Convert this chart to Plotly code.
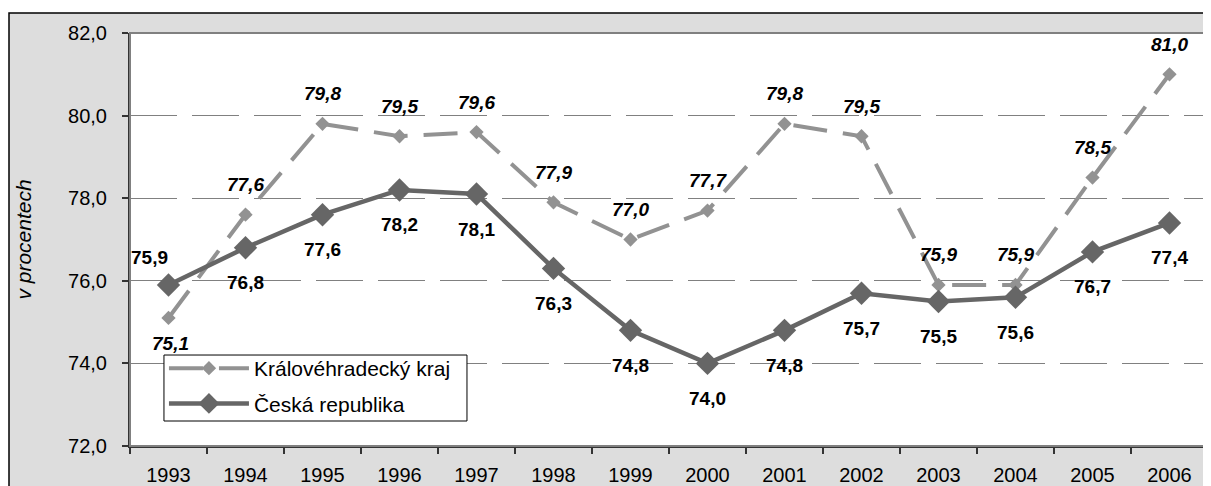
import plotly.graph_objects as go

years = ["1993", "1994", "1995", "1996", "1997", "1998", "1999",
         "2000", "2001", "2002", "2003", "2004", "2005", "2006"]
kh_values = [75.1, 77.6, 79.8, 79.5, 79.6, 77.9, 77.0, 77.7, 79.8, 79.5, 75.9, 75.9, 78.5, 81.0]
cr_values = [75.9, 76.8, 77.6, 78.2, 78.1, 76.3, 74.8, 74.0, 74.8, 75.7, 75.5, 75.6, 76.7, 77.4]
kh_name = "Královéhradecký kraj"
cr_name = "Česká republika"
y_ticks = [72, 74, 76, 78, 80, 82]
y_tick_labels = ["72,0", "74,0", "76,0", "78,0", "80,0", "82,0"]

FONT = "Liberation Sans, Arial, sans-serif"
idx = list(range(len(years)))

def fmt(v):
    return f"{v:.1f}".replace(".", ",")

fig = go.Figure()
fig.add_trace(go.Scatter(
    x=idx, y=kh_values, name=kh_name, mode="lines+markers", legendgroup="kh",
    line=dict(color="#929292", width=4, dash="34px,16px"),
    marker=dict(symbol="diamond", size=11, color="#929292"),
))
fig.add_trace(go.Scatter(
    x=idx, y=cr_values, name=cr_name, mode="lines+markers", legendgroup="cr",
    line=dict(color="#666666", width=4.5),
    marker=dict(symbol="diamond", size=18, color="#666666"),
))

annotations = []
for i, v in zip(idx, kh_values):
    ys = -26 if i == 0 else 30
    annotations.append(dict(x=i, y=v, xref="x", yref="y", text=f"<b><i>{fmt(v)}</i></b>",
                            showarrow=False, yshift=ys, xshift=2 if i == 0 else 0,
                            font=dict(family=FONT, size=19, color="black")))
for i, v in zip(idx, cr_values):
    if i == 0:
        xs, ys = -19, 27
    else:
        xs, ys = 0, -35
    annotations.append(dict(x=i, y=v, xref="x", yref="y", text=f"<b>{fmt(v)}</b>",
                            showarrow=False, yshift=ys, xshift=xs,
                            font=dict(family=FONT, size=19, color="black")))

fig.update_layout(
    width=1211, height=486,
    margin=dict(l=122, r=11, t=25, b=48, pad=0, autoexpand=False),
    paper_bgcolor="white",
    plot_bgcolor="white",
    font=dict(family=FONT, size=20, color="black"),
    showlegend=True,
    legend=dict(x=0.0315, y=0.2373, xanchor="left", yanchor="top",
                bgcolor="rgba(0,0,0,0)", borderwidth=0,
                font=dict(family=FONT, size=21, color="black"),
                itemwidth=80, tracegroupgap=5),
    annotations=annotations,
    shapes=[
        dict(type="rect", xref="paper", yref="paper", layer="below",
             x0=(1 - 122) / 1078, x1=(1230 - 122) / 1078,
             y0=(438 - 500) / 413, y1=(438 - 5) / 413,
             fillcolor="#DDDDDD", line=dict(color="black", width=1.5)),
        dict(type="rect", xref="paper", yref="paper", layer="below",
             x0=0, x1=1, y0=0, y1=1,
             fillcolor="white", line=dict(width=0)),
        dict(type="rect", xref="paper", yref="paper", layer="above",
             x0=0, x1=1, y0=0, y1=1,
             fillcolor="rgba(0,0,0,0)", line=dict(color="#808080", width=2)),
        # legend box
        dict(type="rect", xref="paper", yref="paper", layer="above",
             x0=0.0315, x1=0.3126, y0=0.0605, y1=0.2203,
             fillcolor="white", line=dict(color="black", width=1)),
    ],
)

fig.update_xaxes(
    tickmode="array", tickvals=idx, ticktext=years, ticks="",
    minor=dict(tick0=-0.5, dtick=1, ticks="outside", ticklen=6,
               tickcolor="#333333", tickwidth=1.5, showgrid=False),
    showline=True, linecolor="#333333", linewidth=2, automargin=False,
    showgrid=False, zeroline=False, range=[-0.5, len(years) - 0.5],
    tickfont=dict(family=FONT, size=20), ticklabelstandoff=10,
)
fig.update_yaxes(
    range=[72, 82], tickvals=y_ticks, ticktext=y_tick_labels,
    ticks="outside", ticklen=6, tickcolor="#333333", tickwidth=1.5,
    showline=True, linecolor="#333333", linewidth=2, automargin=False,
    showgrid=True, gridcolor="#808080", gridwidth=1, griddash="47px,15px",
    zeroline=False, ticklabelstandoff=11,
    tickfont=dict(family=FONT, size=20),
    title=dict(text="<i>v procentech</i>", font=dict(family=FONT, size=21), standoff=31),
)

fig.write_html("out.html")
